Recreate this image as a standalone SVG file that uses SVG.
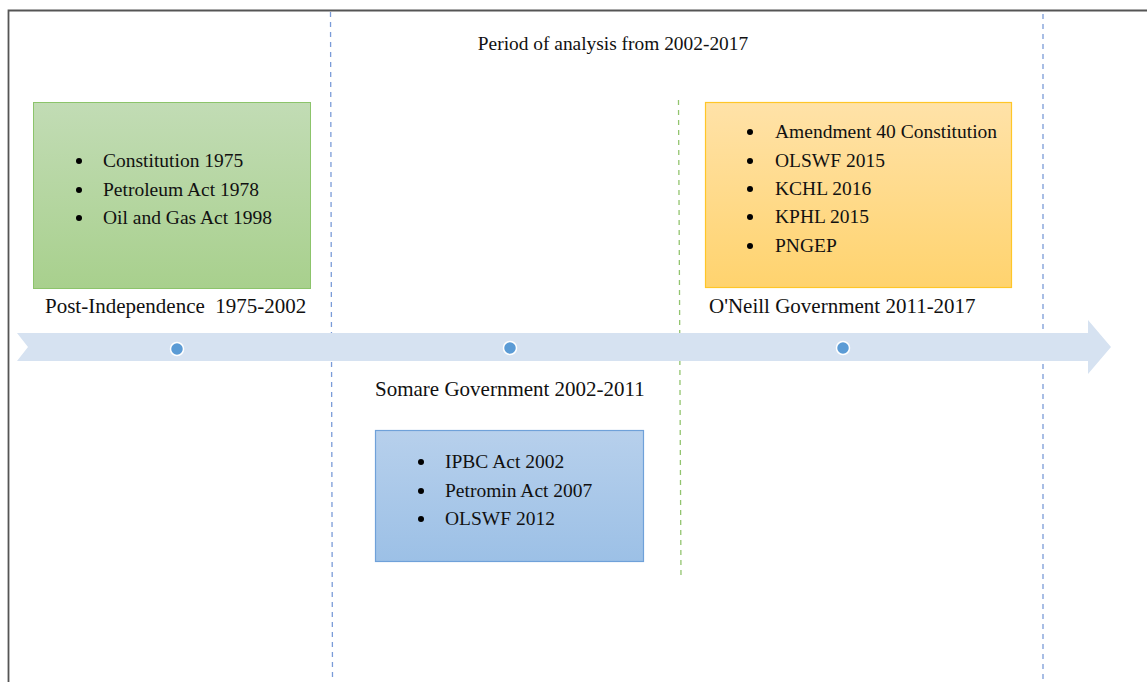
<svg xmlns="http://www.w3.org/2000/svg" width="1147" height="682" viewBox="0 0 1147 682">
  <style>
    text { font-family: "Liberation Serif", "Times New Roman", serif; font-size: 19.5px; fill: #111; white-space: pre; }
    .label { font-size: 21px; }
    .bullet { fill: #000; }
    .divider { stroke: #7A9BD8; stroke-width: 1.3; stroke-dasharray: 5 5; fill: none; }
    .divider-green { stroke: #92C46E; stroke-width: 1.3; stroke-dasharray: 5 5; fill: none; }
    .dot { fill: #5B9BD5; stroke: #ffffff; stroke-width: 1.5; }
  </style>
  <defs>
    <linearGradient id="gGreen" x1="0" y1="0" x2="0" y2="1">
      <stop offset="0" stop-color="#C2DCB5"/>
      <stop offset="1" stop-color="#A8D08D"/>
    </linearGradient>
    <linearGradient id="gOrange" x1="0" y1="0" x2="0" y2="1">
      <stop offset="0" stop-color="#FFE2A8"/>
      <stop offset="1" stop-color="#FFD36E"/>
    </linearGradient>
    <linearGradient id="gBlue" x1="0" y1="0" x2="0" y2="1">
      <stop offset="0" stop-color="#B7D0EC"/>
      <stop offset="1" stop-color="#9CC0E6"/>
    </linearGradient>
  </defs>

  <rect width="1147" height="682" fill="#ffffff"/>

  <!-- outer frame -->
  <path d="M8.5 682 V10.5 H1147" fill="none" stroke="#555" stroke-width="1.8"/>

  <!-- period dividers -->
  <g id="dividers">
    <line class="divider" x1="330.5" y1="12" x2="332.5" y2="682"/>
    <line class="divider" x1="1043" y1="14" x2="1043" y2="682"/>
    <line class="divider-green" x1="678.5" y1="100" x2="681" y2="578"/>
  </g>

  <text x="613" y="50" text-anchor="middle" style="font-size:19.4px">Period of analysis from 2002-2017</text>

  <!-- timeline arrow -->
  <g id="timeline">
    <path d="M17 333 H1088 V320 L1111 347 L1088 374 V361 H17 L28 347 Z" fill="#D6E2F1"/>
    <circle class="dot" cx="177" cy="349" r="6.5"/>
    <circle class="dot" cx="510" cy="348" r="6.5"/>
    <circle class="dot" cx="843" cy="348" r="6.5"/>
  </g>

  <!-- post-independence period -->
  <g id="post-independence">
    <rect x="33.5" y="102.5" width="277" height="186" fill="url(#gGreen)" stroke="#8CC46B" stroke-width="1"/>
    <circle class="bullet" cx="79" cy="161" r="3"/>
    <circle class="bullet" cx="79" cy="190" r="3"/>
    <circle class="bullet" cx="79" cy="218" r="3"/>
    <text x="103" y="167">Constitution 1975</text>
    <text x="103" y="196">Petroleum Act 1978</text>
    <text x="103" y="224">Oil and Gas Act 1998</text>
    <text class="label" x="45" y="313">Post-Independence  1975-2002</text>
  </g>

  <!-- Somare government period -->
  <g id="somare">
    <text class="label" x="375" y="396">Somare Government 2002-2011</text>
    <rect x="375.5" y="430.5" width="268" height="131" fill="url(#gBlue)" stroke="#6FA1D9" stroke-width="1.2"/>
    <circle class="bullet" cx="421" cy="462" r="3"/>
    <circle class="bullet" cx="421" cy="491" r="3"/>
    <circle class="bullet" cx="421" cy="519" r="3"/>
    <text x="445" y="468">IPBC Act 2002</text>
    <text x="445" y="497">Petromin Act 2007</text>
    <text x="445" y="525">OLSWF 2012</text>
  </g>

  <!-- O'Neill government period -->
  <g id="oneill">
    <rect x="705.5" y="102.5" width="306" height="185" fill="url(#gOrange)" stroke="#FFC628" stroke-width="1.2"/>
    <circle class="bullet" cx="750" cy="132" r="3"/>
    <circle class="bullet" cx="750" cy="161" r="3"/>
    <circle class="bullet" cx="750" cy="189" r="3"/>
    <circle class="bullet" cx="750" cy="217" r="3"/>
    <circle class="bullet" cx="750" cy="246" r="3"/>
    <text x="775" y="138">Amendment 40 Constitution</text>
    <text x="775" y="167">OLSWF 2015</text>
    <text x="775" y="195">KCHL 2016</text>
    <text x="775" y="223">KPHL 2015</text>
    <text x="775" y="252">PNGEP</text>
    <text class="label" x="709" y="313">O'Neill Government 2011-2017</text>
  </g>
</svg>
